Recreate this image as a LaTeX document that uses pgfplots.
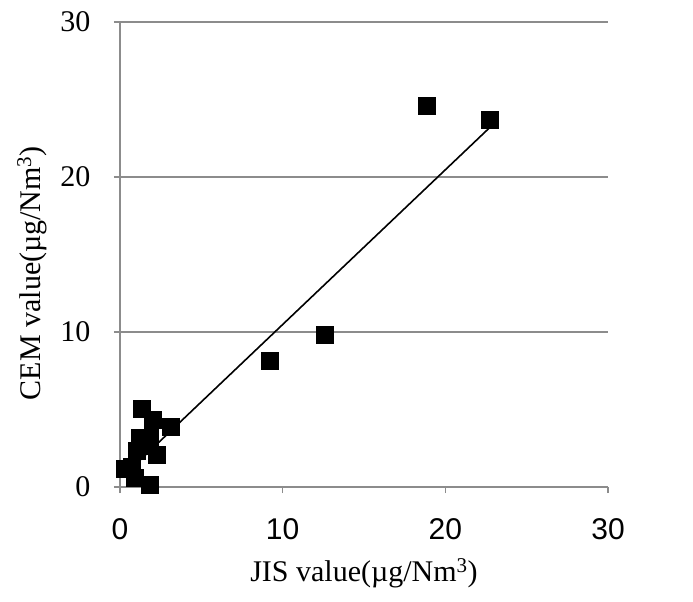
\documentclass[border=0pt]{standalone}
\usepackage{fontspec}
\setmainfont{Liberation Serif}
\setsansfont{Liberation Sans}
\usepackage{pgfplots}
\pgfplotsset{compat=1.18}
\definecolor{axgray}{HTML}{8C8C8C}
\begin{document}
\begin{tikzpicture}[x=1pt,y=1pt]
\path[use as bounding box] (0,0) rectangle (693,602);
\begin{axis}[
  at={(120pt,115pt)}, anchor=south west,
  scale only axis, width=488pt, height=465pt,
  xmin=0, xmax=30, ymin=0, ymax=30,
  xtick={0,10,20,30}, ytick={0,10,20,30},
  axis x line*=bottom, axis y line*=left,
  axis line style={axgray, line width=1.2pt, -},
  ymajorgrids, grid style={axgray, line width=1.2pt},
  tick style={axgray, line width=1.2pt},
  tick align=outside, major tick length=6pt,
  /pgf/number format/assume math mode=true,
  xticklabel style={font=\fontsize{30}{36}\sffamily\selectfont, yshift=-22pt},
  yticklabel style={font=\fontsize{30}{36}\rmfamily\selectfont, xshift=-20pt},
  xlabel={JIS value(µg/Nm\textsuperscript{3})},
  ylabel={CEM value(µg/Nm\textsuperscript{3})},
  label style={font=\fontsize{30}{36}\rmfamily\selectfont},
  xlabel style={at={(axis description cs:0.5,0)}, anchor=center, yshift=-86pt},
  every axis y label/.append style={at={(axis description cs:0,0.46)}, anchor=center, yshift=88pt},
  clip=false,
]
\addplot[black, line width=1.6pt] coordinates {(1.0,1.5) (22.74,23.2)};
\addplot[only marks, mark=square*, mark size=8.5pt, black] coordinates {
(18.87,24.58) (22.74,23.68) (9.22,8.13) (12.60,9.81)
(1.35,5.03) (2.03,4.32) (3.13,3.87) (1.23,3.16) (1.84,3.16)
(2.27,2.06) (1.04,2.32) (1.6,2.65) (0.74,1.29) (0.3,1.2)
(0.92,0.58) (1.84,0.13)
};
\end{axis}
\end{tikzpicture}
\end{document}
